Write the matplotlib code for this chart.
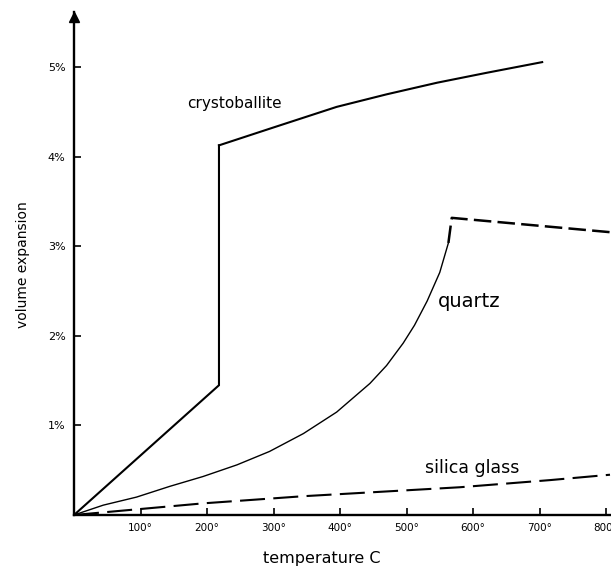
import matplotlib
matplotlib.use("Agg")
import matplotlib.pyplot as plt

# ---- data ----
x_ticks = [100, 200, 300, 400, 500, 600, 700, 800]
x_tick_labels = ["100°", "200°", "300°", "400°", "500°", "600°", "700°", "800°"]
y_ticks = [1, 2, 3, 4, 5]
y_tick_labels = ["1%", "2%", "3%", "4%", "5%"]

cristo_low_T = [0, 218, 218]
cristo_low_V = [0.0, 1.45, 4.13]
cristo_high_T = [218, 300, 395, 470, 546, 620, 704]
cristo_high_V = [4.13, 4.33, 4.56, 4.70, 4.83, 4.94, 5.06]

quartz_T = [0, 44, 94, 144, 194, 245, 294, 345, 395, 445, 470, 495, 512, 531, 550, 563]
quartz_V = [0.0, 0.11, 0.20, 0.32, 0.43, 0.56, 0.71, 0.91, 1.15, 1.47, 1.67, 1.92,
            2.12, 2.39, 2.71, 3.04]
quartz_hi_T = [563, 568, 806]
quartz_hi_V = [3.04, 3.32, 3.16]

glass_T = [0, 194, 345, 580, 716, 806]
glass_V = [0.0, 0.13, 0.21, 0.31, 0.39, 0.45]

W, H = 611, 571
fig = plt.figure(figsize=(W / 100, H / 100), dpi=100)
ax = fig.add_axes([74 / W, 56 / H, 537 / W, 503 / H])
ax.set_xlim(0, 807.5)
ax.set_ylim(0, 5.62)

ax.plot(cristo_low_T, cristo_low_V, color="black", lw=1.5, solid_joinstyle="miter")
ax.plot(cristo_high_T, cristo_high_V, color="black", lw=1.5)
ax.plot(quartz_T, quartz_V, color="black", lw=1.0)
ax.plot(quartz_hi_T, quartz_hi_V, color="black", lw=1.8, ls=(0, (7, 2.5)))
ax.plot(glass_T, glass_V, color="black", lw=1.5, ls=(0, (12, 4)))

for s in ["top", "right"]:
    ax.spines[s].set_visible(False)
for s in ["left", "bottom"]:
    ax.spines[s].set_linewidth(1.7)

ax.plot([0], [5.56], marker="^", color="black", markersize=7, clip_on=False)

ax.set_xticks(x_ticks)
ax.set_xticklabels(x_tick_labels, fontsize=7.5)
ax.set_yticks(y_ticks)
ax.set_yticklabels(y_tick_labels, fontsize=8)
ax.tick_params(axis="x", direction="in", length=5, width=1.2, pad=6)
ax.tick_params(axis="y", direction="in", length=5, width=1.2, pad=6)

ax.text(170, 4.60, "crystoballite", fontsize=11, va="center", ha="left")
ax.text(547, 2.38, "quartz", fontsize=14, va="center", ha="left")
ax.text(528, 0.525, "silica glass", fontsize=12.5, va="center", ha="left")

fig.text(322 / W, 1 - 558 / H, "temperature C", fontsize=11.5, ha="center", va="center")
fig.text(23 / W, 1 - 265 / H, "volume expansion", fontsize=10, ha="center", va="center",
         rotation=90)

fig.savefig("out.png", dpi=100)
